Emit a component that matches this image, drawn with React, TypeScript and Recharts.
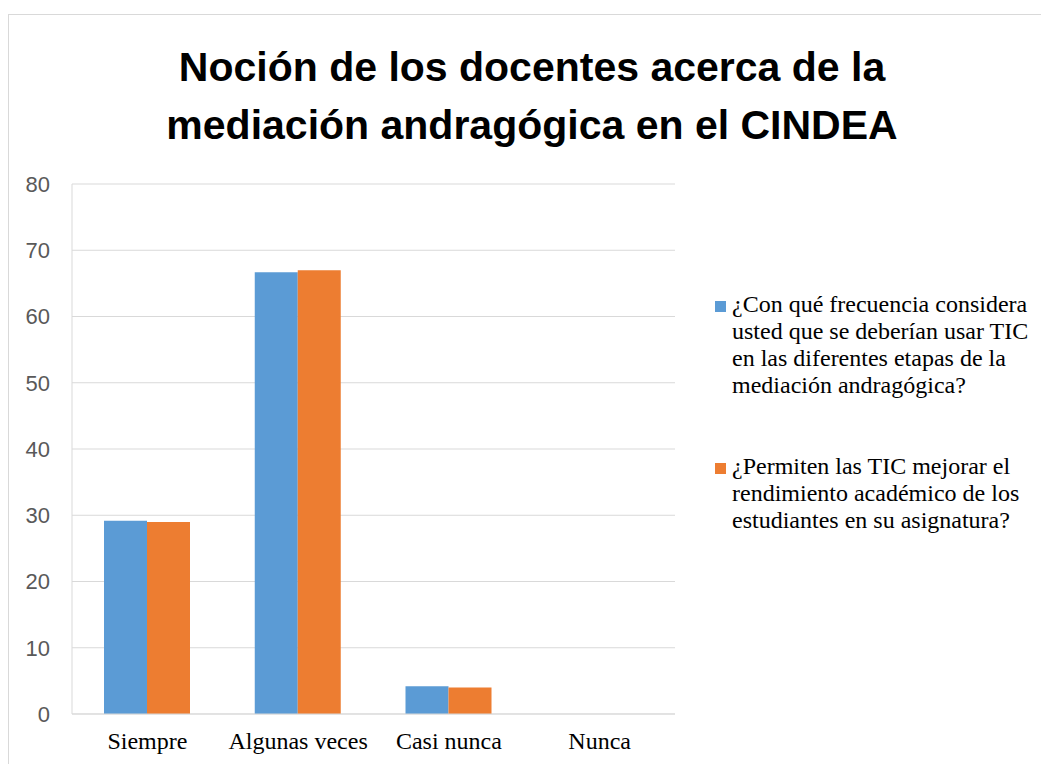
import { BarChart, Bar, XAxis, YAxis, CartesianGrid } from "recharts"

const categories = ["Siempre", "Algunas veces", "Casi nunca", "Nunca"]
const frecuenciaUso = [29.17, 66.67, 4.17, 0]
const mejoraRendimiento = [29, 67, 4, 0]
const yTicks = [0, 10, 20, 30, 40, 50, 60, 70, 80]

const seriesNames = [
  "¿Con qué frecuencia considera usted que se deberían usar TIC en las diferentes etapas de la mediación andragógica?",
  "¿Permiten las TIC mejorar el rendimiento académico de los estudiantes en su asignatura?",
]
const titleLines = [
  "Noción de los docentes acerca de la",
  "mediación andragógica en el CINDEA",
]

const BLUE = "#5b9bd5"
const ORANGE = "#ed7d31"
const GRID = "#d9d9d9"
const SERIF = "'Liberation Serif', 'Times New Roman', serif"
const SANS = "'Liberation Sans', Arial, sans-serif"

const data = categories.map((name, i) => ({
  name,
  uso: frecuenciaUso[i],
  rendimiento: mejoraRendimiento[i],
}))

const legendItems = [
  { label: seriesNames[0], color: BLUE },
  { label: seriesNames[1], color: ORANGE },
]

export default function App() {
  return (
    <div
      style={{
        position: "absolute",
        left: 0,
        top: 0,
        width: 1041,
        height: 764,
        overflow: "hidden",
        background: "#fff",
      }}
    >
      <div
        style={{
          position: "absolute",
          left: 8,
          top: 14,
          width: 1100,
          height: 800,
          borderLeft: `1px solid ${GRID}`,
          borderTop: `1px solid ${GRID}`,
        }}
      />
      {titleLines.map((line, i) => (
        <div
          key={i}
          style={{
            position: "absolute",
            left: 0,
            width: 1064,
            top: 38 + i * 58,
            textAlign: "center",
            fontFamily: SANS,
            fontWeight: 700,
            fontSize: 41,
            lineHeight: "58px",
            color: "#000",
            whiteSpace: "nowrap",
          }}
        >
          {line}
        </div>
      ))}
      <BarChart
        width={1041}
        height={764}
        data={data}
        margin={{ top: 184, right: 366, bottom: 0, left: 0 }}
        barGap={0}
        style={{ position: "absolute", left: 0, top: 0 }}
      >
        <CartesianGrid vertical={false} stroke={GRID} />
        <XAxis
          dataKey="name"
          height={50}
          axisLine={{ stroke: GRID }}
          tickLine={false}
          tickSize={0}
          tickMargin={18}
          tick={{ fill: "#000", fontSize: 24, fontFamily: SERIF }}
        />
        <YAxis
          width={72}
          domain={[0, 80]}
          ticks={yTicks}
          axisLine={{ stroke: GRID }}
          tickLine={false}
          tickSize={0}
          tickMargin={22}
          tick={{ fill: "#595959", fontSize: 22, fontFamily: SANS }}
        />
        <Bar
          dataKey="uso"
          name={seriesNames[0]}
          fill={BLUE}
          barSize={43}
          isAnimationActive={false}
        />
        <Bar
          dataKey="rendimiento"
          name={seriesNames[1]}
          fill={ORANGE}
          barSize={43}
          isAnimationActive={false}
        />
      </BarChart>
      <div
        style={{
          position: "absolute",
          left: 715,
          top: 291,
          fontFamily: SERIF,
        }}
      >
        {legendItems.map((item, i) => (
          <div
            key={i}
            style={{
              position: "relative",
              paddingLeft: 17,
              width: 305,
              fontSize: 24,
              lineHeight: "27px",
              color: "#000",
              marginBottom: 54,
            }}
          >
            <span
              style={{
                position: "absolute",
                left: 0,
                top: 10,
                width: 11,
                height: 11,
                background: item.color,
              }}
            />
            {item.label}
          </div>
        ))}
      </div>
    </div>
  )
}
